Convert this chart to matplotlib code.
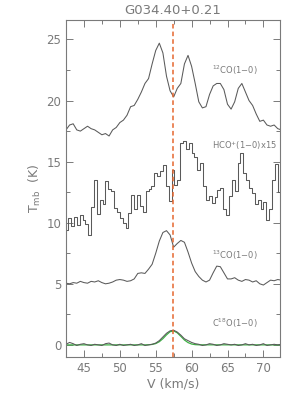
import numpy as np
import matplotlib
matplotlib.use("Agg")
import matplotlib.pyplot as plt
from matplotlib.ticker import MultipleLocator

# 12CO(1-0) spectrum
v_12co = np.arange(42.5, 72.51, 0.5)
t_12co = [17.6, 18.0, 18.1, 17.6, 17.5, 17.7, 17.9, 17.7, 17.6, 17.4,
          17.2, 17.3, 17.1, 17.6, 17.8, 18.2, 18.4, 18.8, 19.5, 19.6,
          20.1, 20.7, 21.4, 21.8, 23.0, 24.1, 24.7, 23.9, 22.0, 20.8,
          20.3, 21.0, 21.4, 23.0, 23.7, 22.8, 21.4, 19.9, 19.4, 19.5,
          20.5, 21.2, 21.4, 21.4, 20.9, 19.7, 19.3, 19.9, 21.0, 21.4,
          20.7, 20.0, 19.6, 18.9, 18.3, 18.4, 18.0, 17.9, 18.0, 17.7, 17.6]

# HCO+(1-0) x15, offset, 0.4 km/s channels starting at 42.6
hco_v0, hco_dv = 42.6, 0.4
t_hco = [9.4, 10.4, 9.7, 10.5, 9.8, 10.6, 10.2, 9.9, 9.0, 11.3,
         13.5, 10.7, 11.9, 11.5, 13.4, 12.8, 12.6, 11.2, 10.9, 10.4,
         10.0, 9.6, 10.8, 12.3, 11.1, 12.3, 11.4, 10.9, 12.6, 12.8,
         13.0, 14.1, 13.8, 14.2, 14.75, 13.0, 11.75, 14.3, 13.1, 13.5,
         16.5, 16.7, 16.0, 16.5, 15.7, 15.4, 14.3, 14.9, 13.0, 11.9,
         12.2, 11.6, 12.1, 12.7, 12.85, 11.1, 10.65, 12.2, 13.5, 12.6,
         14.9, 15.7, 14.1, 13.5, 12.85, 12.4, 11.5, 11.9, 11.1, 11.7,
         10.25, 11.1, 13.5, 14.8, 12.5]
v_hco = hco_v0 + hco_dv * np.arange(len(t_hco))

# 13CO(1-0)
v_13co = np.arange(42.5, 72.51, 0.5)
t_13co = [5.05, 5.0, 5.1, 5.05, 5.2, 5.1, 5.05, 5.2, 5.15, 5.25,
          5.1, 5.0, 5.05, 5.15, 5.3, 5.35, 5.3, 5.2, 5.25, 5.4,
          5.85, 5.9, 5.85, 6.2, 6.6, 7.5, 8.5, 9.2, 9.35, 9.0,
          8.0, 8.3, 8.55, 8.4, 7.6, 6.7, 6.0, 5.6, 5.3, 5.15,
          5.3, 5.9, 6.45, 6.4, 5.9, 5.4, 5.4, 5.5, 5.3, 5.2,
          5.35, 5.3, 5.15, 5.25, 5.0, 4.9, 5.1, 5.3, 5.25, 5.35, 5.3]

# C18O(1-0)
v_c18o = np.arange(42.5, 72.51, 0.5)
t_c18o = [0.05, 0.2, 0.1, -0.05, 0.05, 0.1, 0.0, -0.05, 0.05, 0.0,
          -0.05, 0.1, 0.15, 0.0, -0.05, 0.05, -0.05, 0.0, 0.05, -0.05,
          0.0, 0.1, -0.05, 0.0, 0.05, 0.15, 0.35, 0.65, 0.95, 1.15,
          1.2, 1.05, 0.8, 0.5, 0.35, 0.2, 0.1, 0.05, -0.05, 0.0,
          0.1, 0.05, -0.05, 0.0, 0.1, 0.05, 0.0, 0.05, -0.05, 0.0,
          0.1, 0.0, 0.05, -0.05, 0.0, 0.1, -0.05, 0.0, 0.05, 0.0, 0.05]

# gaussian fit to C18O
v_fit = [42.5, 53.5, 54.0, 54.5, 55.0, 55.5, 56.0, 56.5, 57.0, 57.5,
         58.0, 58.5, 59.0, 59.5, 60.0, 60.5, 61.0, 72.5]
t_fit = [0.0, 0.0, 0.01, 0.036, 0.107, 0.26, 0.51, 0.82, 1.08, 1.145,
         0.99, 0.70, 0.40, 0.19, 0.07, 0.02, 0.005, 0.0]

v_sys = 57.4
labels = ["$^{12}$CO(1$-$0)", "HCO$^{+}$(1$-$0)x15", "$^{13}$CO(1$-$0)", "C$^{18}$O(1$-$0)"]
label_y = [22.5, 16.3, 7.3, 1.8]
label_x = 62.9

gray = "#7a7a7a"
line_c = "#5a5a5a"

fig = plt.figure(figsize=(3.0, 3.99), dpi=100)
ax = fig.add_axes([0.22, 0.105, 0.713, 0.845])

ax.plot(v_12co, t_12co, color=line_c, lw=0.75)
ax.step(v_hco, t_hco, where="mid", color=line_c, lw=0.75)
ax.plot(v_13co, t_13co, color=line_c, lw=0.75)
ax.plot(v_fit, t_fit, color="#3cb043", lw=0.9)
ax.plot(v_c18o, t_c18o, color=line_c, lw=0.75)
ax.axvline(v_sys, color="#e5672f", lw=1.1, ls=(0, (3, 2)))

for lab, ly in zip(labels, label_y):
    ax.text(label_x, ly, lab, fontsize=6, color=gray, va="center", ha="left")

ax.set_xlim(42.5, 72.3)
ax.set_ylim(-1.0, 26.6)
ax.xaxis.set_major_locator(MultipleLocator(5))
ax.xaxis.set_minor_locator(MultipleLocator(2.5))
ax.yaxis.set_major_locator(MultipleLocator(5))
ax.yaxis.set_minor_locator(MultipleLocator(2.5))
ax.tick_params(which="both", direction="in", top=True, right=True,
               color=gray, labelcolor=gray, labelsize=8.5, width=0.7)
ax.tick_params(which="major", length=5)
ax.tick_params(which="minor", length=3)
for s in ax.spines.values():
    s.set_color(gray)
    s.set_linewidth(0.8)

ax.set_xlabel("V (km/s)", fontsize=9, color=gray, labelpad=2)
ax.set_ylabel("T$_{\\rm mb}$  (K)", fontsize=9, color=gray, labelpad=2)
ax.set_title("G034.40+0.21", fontsize=9.5, color=gray, pad=4)

fig.savefig("out.png", dpi=100)
